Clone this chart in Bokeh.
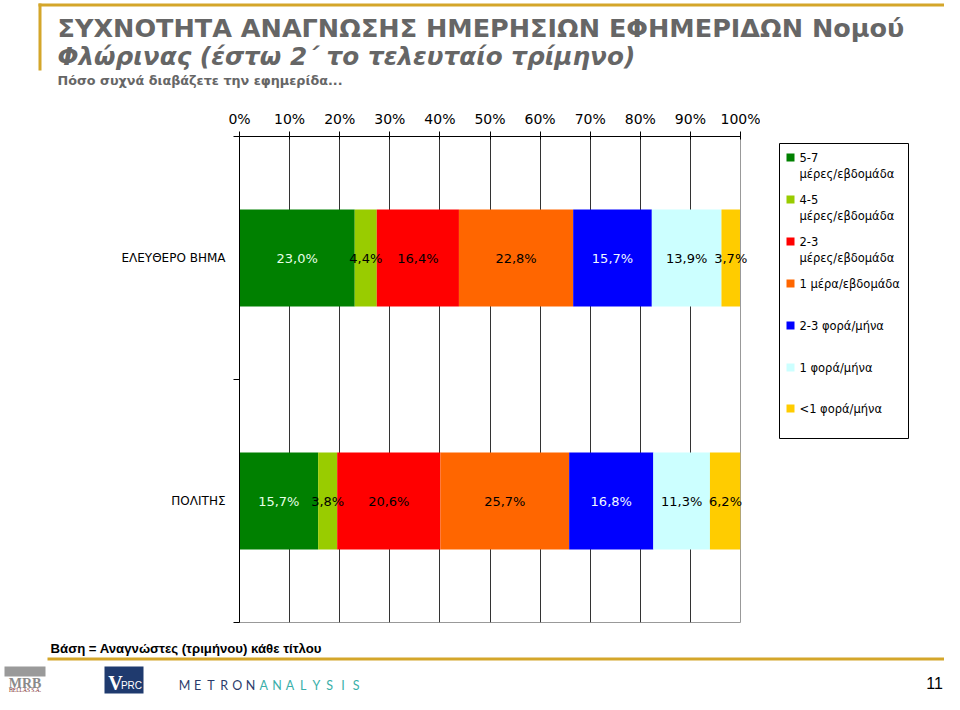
from bokeh.plotting import figure
from bokeh.models import Range1d, FixedTicker, Label, BoxAnnotation
from bokeh.layouts import column, row
from bokeh.embed import file_html
from bokeh.resources import INLINE
from bokeh.core.properties import value

# ---------------- data ----------------
newspapers = ["ΕΛΕΥΘΕΡΟ ΒΗΜΑ", "ΠΟΛΙΤΗΣ"]
freq_labels = ["5-7\nμέρες/εβδομάδα", "4-5\nμέρες/εβδομάδα", "2-3\nμέρες/εβδομάδα",
               "1 μέρα/εβδομάδα", "2-3 φορά/μήνα", "1 φορά/μήνα", "<1 φορά/μήνα"]
eleftero_vima = [23.0, 4.4, 16.4, 22.8, 15.7, 13.9, 3.7]
politis = [15.7, 3.8, 20.6, 25.7, 16.8, 11.3, 6.2]
tick_values = [0, 10, 20, 30, 40, 50, 60, 70, 80, 90, 100]
tick_labels = ["0%", "10%", "20%", "30%", "40%", "50%", "60%", "70%", "80%", "90%", "100%"]
colors = ["#008000", "#99CC00", "#FF0000", "#FF6600", "#0000FF", "#CCFFFF", "#FFCC00"]
value_text_colors = ["#E6FFE6", "black", "black", "black", "#F0F8FF", "black", "black"]

series_by_paper = [eleftero_vima, politis]
n = len(newspapers)
ypos = [n - i - 0.5 for i in range(n)]          # category centres (top to bottom)

TOTAL_W = 944
HEAD_H, MID_H, FOOT_H = 98, 542, 54
CHART_W = 760
LEG_W = TOTAL_W - CHART_W
CH_TOP, CH_BOTTOM = 38, 18                     # chart borders (frame edges)


def blank(w, h, top=0, bottom=0):
    f = figure(width=w, height=h, x_range=Range1d(0, 1), y_range=Range1d(0, 1),
               x_axis_location=None, y_axis_location=None,
               output_backend="svg", toolbar_location=None,
               min_border_left=0, min_border_right=0,
               min_border_top=top, min_border_bottom=bottom)
    f.grid.visible = False
    f.outline_line_color = None
    f.background_fill_color = "white"
    f.border_fill_color = "white"
    return f


def lab(f, ox, oy, text, X, Y, size, color="black", font="DejaVu Sans", style="normal",
        align="left"):
    f.add_layout(Label(x=X - ox, y=oy - Y, x_units="screen", y_units="screen",
                       text=text, text_font=font, text_font_size=f"{size}px",
                       text_font_style=style, text_color=color,
                       text_align=align, text_baseline="middle"))


def box(f, ox, oy, X0, Y0, X1, Y1, fill, line=None):
    f.add_layout(BoxAnnotation(left=X0 - ox, right=X1 - ox, top=oy - Y0, bottom=oy - Y1,
                               left_units="screen", right_units="screen",
                               top_units="screen", bottom_units="screen",
                               fill_color=fill if fill else "white",
                               fill_alpha=1 if fill else 0,
                               line_color=line if line else "black",
                               line_alpha=1 if line else 0, line_width=1))


gold = "#D4A62A"
title_grey = "#666666"

# ---------------- header ----------------
head = blank(TOTAL_W, HEAD_H)
HX, HY = 0, HEAD_H
box(head, HX, HY, 38, 3, 944, 6, gold)
box(head, HX, HY, 38, 3, 41, 70, gold)
lab(head, HX, HY, "ΣΥΧΝΟΤΗΤΑ ΑΝΑΓΝΩΣΗΣ ΗΜΕΡΗΣΙΩΝ ΕΦΗΜΕΡΙΔΩΝ Νομού", 57, 27, 25.5,
    title_grey, style="bold")
lab(head, HX, HY, "Φλώρινας (έστω 2΄ το τελευταίο τρίμηνο)", 57, 56, 24.7,
    title_grey, style="bold italic")
lab(head, HX, HY, "Πόσο συχνά διαβάζετε την εφημερίδα...", 57, 80, 12.75,
    title_grey, style="bold")

# ---------------- chart ----------------
p = figure(width=CHART_W, height=MID_H,
           x_range=Range1d(0, 100), y_range=Range1d(0, n),
           x_axis_location="above",
           output_backend="svg", toolbar_location=None,
           min_border_left=239, min_border_right=20,
           min_border_top=CH_TOP, min_border_bottom=CH_BOTTOM)
p.background_fill_color = "white"
p.border_fill_color = "white"
p.outline_line_color = "#999999"

ax = p.xaxis[0]
ax.ticker = FixedTicker(ticks=tick_values)
ax.major_label_overrides = {t: l for t, l in zip(tick_values, tick_labels)}
ax.major_label_text_font = "DejaVu Sans"
ax.major_label_text_font_size = "14px"
ax.major_label_text_color = "black"
ax.major_tick_out = 5
ax.major_tick_in = 3
ax.minor_tick_out = 0
ax.minor_tick_in = 0
ax.axis_line_color = "black"
ax.major_tick_line_color = "black"
ax.major_label_standoff = 5

ay = p.yaxis[0]
ay.ticker = FixedTicker(ticks=ypos, minor_ticks=list(range(n + 1)))
ay.major_label_overrides = {y: name for y, name in zip(ypos, newspapers)}
ay.major_label_text_font = "DejaVu Sans"
ay.major_label_text_font_size = "12px"
ay.major_label_text_color = "black"
ay.major_tick_out = 0
ay.major_tick_in = 0
ay.minor_tick_out = 6
ay.minor_tick_in = 0
ay.minor_tick_line_color = "black"
ay.axis_line_color = "black"
ay.major_label_standoff = 8

p.xgrid[0].ticker = FixedTicker(ticks=tick_values)
p.xgrid[0].grid_line_color = "#333333"
p.xgrid[0].grid_line_width = 1
p.ygrid[0].visible = False

for i, c in enumerate(colors):
    lefts = [sum(s[:i]) for s in series_by_paper]
    rights = [sum(s[:i + 1]) for s in series_by_paper]
    p.hbar(y=ypos, left=lefts, right=rights, height=0.4,
           fill_color=c, line_color=None)

lx, ly, lt, lc = [], [], [], []
for yc, s in zip(ypos, series_by_paper):
    for i, v in enumerate(s):
        lx.append(sum(s[:i]) + v / 2)
        ly.append(yc)
        lt.append(f"{v:.1f}%".replace(".", ","))
        lc.append(value_text_colors[i])
p.text(x=lx, y=ly, text=lt, text_color=lc, text_font=value("DejaVu Sans"),
       text_font_size=value("13px"), text_align="center", text_baseline="middle",
       level="overlay")

# ---------------- legend (frame aligned with chart frame) ----------------
leg = blank(LEG_W, MID_H, top=CH_TOP, bottom=CH_BOTTOM)
LX, LY = CHART_W, HEAD_H + MID_H - CH_BOTTOM
box(leg, LX, LY, 779, 143, 908, 438, "white", "black")
item_tops = [153, 195, 237, 279, 321, 363, 404]
for c, t, yt in zip(colors, freq_labels, item_tops):
    box(leg, LX, LY, 786, yt, 794, yt + 8, c)
    for k, line in enumerate(t.split("\n")):
        lab(leg, LX, LY, line, 799, yt + 4 + 16 * k, 11.5, "black")

# ---------------- footer ----------------
foot = blank(TOTAL_W, FOOT_H)
FX, FY = 0, HEAD_H + MID_H + FOOT_H
lab(foot, FX, FY, "Βάση = Αναγνώστες (τριμήνου) κάθε τίτλου", 50, 648, 13.2, "black",
    font="Liberation Sans", style="bold")
box(foot, FX, FY, 47, 657, 944, 660, gold)
box(foot, FX, FY, 4, 666, 45, 676, "#9A9A9A")
lab(foot, FX, FY, "MRB", 24.5, 683, 14, "#8A8A8A", font="Liberation Serif", style="bold", align="center")
lab(foot, FX, FY, "HELLAS S.A.", 24.5, 689, 5.5, "#7A2A2A", font="Liberation Serif", align="center")
box(foot, FX, FY, 104, 666, 143, 693, "#1F3A6E")
lab(foot, FX, FY, "V", 115, 682, 20, "white", font="Liberation Serif", style="bold", align="center")
lab(foot, FX, FY, "PRC", 131, 685, 10, "white", font="Liberation Sans", align="center")
logo = "METRONANALYSIS"
for k, ch in enumerate(logo):
    lab(foot, FX, FY, ch, 184 + k * 13.2, 685, 12.5, "#2B3B6B" if k < 6 else "#3AAFA9",
        font="Lato", align="center")
lab(foot, FX, FY, "11", 934, 682, 16, "black", font="Liberation Sans", align="center")

layout = column(head, row(p, leg, spacing=0), foot, spacing=0)
open("out.html", "w").write(file_html(layout, INLINE))
